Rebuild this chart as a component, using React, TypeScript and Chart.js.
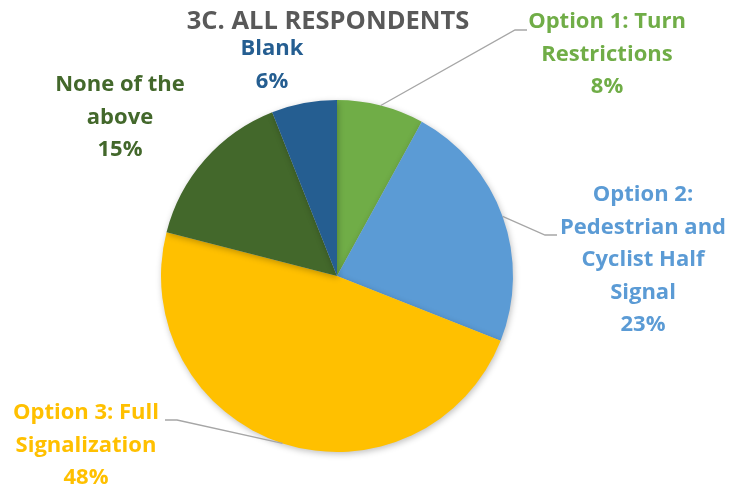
import React, { useEffect, useRef } from "react";
import { Chart, registerables } from "chart.js";

Chart.register(...registerables);

const TITLE = "3C. ALL RESPONDENTS";
const CATEGORIES = [
  "Option 1: Turn Restrictions",
  "Option 2: Pedestrian and Cyclist Half Signal",
  "Option 3: Full Signalization",
  "None of the above",
  "Blank",
];
const VALUES = [8, 23, 48, 15, 6];
const COLORS = ["#70AD47", "#5B9BD5", "#FFC000", "#43682B", "#255E91"];
const LABEL_LINES = [
  ["Option 1: Turn", "Restrictions", "8%"],
  ["Option 2:", "Pedestrian and", "Cyclist Half", "Signal", "23%"],
  ["Option 3: Full", "Signalization", "48%"],
  ["None of the", "above", "15%"],
  ["Blank", "6%"],
];
const LABEL_POS = [
  { x: 607, y: 22, leader: true, elbowX: 527, elbowY: 30, side: "right" },
  { x: 643, y: 195, leader: true, elbowX: 557, elbowY: 235, side: "right" },
  { x: 86, y: 413, leader: true, elbowX: 165, elbowY: 420, side: "left" },
  { x: 120, y: 85, leader: false, elbowX: 0, elbowY: 0, side: "left" },
  { x: 272, y: 49, leader: false, elbowX: 0, elbowY: 0, side: "left" },
];
const FONT = "'Open Sans', Lato, sans-serif";

const labelPlugin = {
  id: "pieLabels",
  beforeDatasetsDraw(chart: any) {
    const ctx = chart.ctx;
    ctx.save();
    ctx.shadowColor = "rgba(0,0,0,0.25)";
    ctx.shadowBlur = 6;
    ctx.shadowOffsetX = 1;
    ctx.shadowOffsetY = 2;
  },
  afterDatasetsDraw(chart: any) {
    chart.ctx.restore();
  },
  afterDraw(chart: any) {
    const ctx = chart.ctx;
    ctx.save();
    ctx.font = `bold 25.5px ${FONT}`;
    ctx.fillStyle = "#595959";
    ctx.textAlign = "center";
    ctx.textBaseline = "middle";
    ctx.fillText(TITLE, 328, 22);

    const meta = chart.getDatasetMeta(0);
    meta.data.forEach((arc: any, i: number) => {
      const p = LABEL_POS[i];
      if (p.leader) {
        const mid = (arc.startAngle + arc.endAngle) / 2;
        const ax = arc.x + Math.cos(mid) * arc.outerRadius;
        const ay = arc.y + Math.sin(mid) * arc.outerRadius;
        const ex2 = p.side === "right" ? p.elbowX - 12 : p.elbowX + 12;
        ctx.beginPath();
        ctx.strokeStyle = "#A6A6A6";
        ctx.lineWidth = 1.3;
        ctx.moveTo(ax, ay);
        ctx.lineTo(ex2, p.elbowY);
        ctx.lineTo(p.elbowX, p.elbowY);
        ctx.stroke();
      }
      ctx.font = `bold 22px ${FONT}`;
      ctx.fillStyle = COLORS[i];
      ctx.textAlign = "center";
      ctx.textBaseline = "middle";
      LABEL_LINES[i].forEach((t, j) => {
        ctx.fillText(t, p.x, p.y + j * 32.5);
      });
    });
    ctx.restore();
  },
};

export default function App() {
  const ref = useRef<HTMLCanvasElement>(null);
  useEffect(() => {
    document.body.style.margin = "0";
    const chart = new Chart(ref.current!, {
      type: "pie",
      data: {
        labels: CATEGORIES,
        datasets: [
          {
            data: VALUES,
            backgroundColor: COLORS,
            borderWidth: 0,
          },
        ],
      },
      options: {
        responsive: false,
        animation: false,
        layout: { padding: { top: 100, bottom: 37, left: 161, right: 217 } },
        plugins: {
          legend: { display: false },
          tooltip: { enabled: false },
          title: { display: false },
        },
      },
      plugins: [labelPlugin],
    });
    return () => chart.destroy();
  }, []);
  return (
    <div style={{ width: 730, height: 489, background: "#fff" }}>
      <canvas ref={ref} width={730} height={489} />
    </div>
  );
}
